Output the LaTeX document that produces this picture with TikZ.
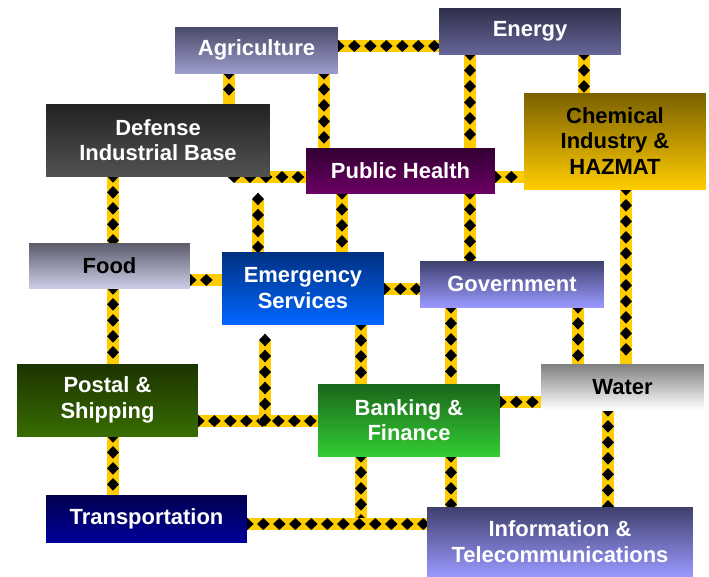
\documentclass[tikz,border=0pt]{standalone}
\usepackage{fontspec}
\setmainfont{Liberation Sans}
\usetikzlibrary{positioning, backgrounds, decorations.markings}
\definecolor{linkyellow}{RGB}{255,204,0}

\tikzset{
  sector/.style={inner sep=0pt, align=center, text=white, font=\fontsize{12.5}{14.5}\selectfont\bfseries},
  link/.style={draw=linkyellow, line width=6.8pt,
    postaction={decorate},
    decoration={markings, mark=between positions 0 and 1 step 0.32cm with
      {\fill[black] (-3.6pt,0pt) -- (0pt,3.4pt) -- (3.6pt,0pt) -- (0pt,-3.4pt) -- cycle;}}}
}

\begin{document}
\begin{tikzpicture}[x=0.02cm, y=-0.02cm]
  \useasboundingbox (0,0) rectangle (709,576);

  % Top row
  \node[sector, top color={rgb,255:red,74;green,74;blue,106}, bottom color={rgb,255:red,156;green,156;blue,204}, minimum width=3.26cm, minimum height=0.92cm] (agri) at (256.5,50) {Agriculture};
  \node[sector, top color={rgb,255:red,47;green,47;blue,74}, bottom color={rgb,255:red,102;green,102;blue,153}, minimum width=3.64cm, minimum height=0.92cm] (energy) at (530,31) {Energy};
  \node[sector, top color={rgb,255:red,34;green,34;blue,34}, bottom color={rgb,255:red,82;green,82;blue,82}, minimum width=4.48cm, minimum height=1.44cm] (dib) at (158,140) {Defense\\Industrial Base};
  \node[sector, top color={rgb,255:red,51;green,0;blue,51}, bottom color={rgb,255:red,106;green,0;blue,100}, minimum width=3.78cm, minimum height=0.90cm] (health) at (400.5,170.5) {Public Health};
  \node[sector, text=black, top color={rgb,255:red,122;green,96;blue,0}, bottom color={rgb,255:red,255;green,204;blue,0}, minimum width=3.64cm, minimum height=1.92cm] (chem) at (615,141) {Chemical\\Industry \&\\HAZMAT};

  % Middle row
  \node[sector, text=black, top color={rgb,255:red,92;green,92;blue,108}, bottom color={rgb,255:red,204;green,204;blue,230}, minimum width=3.22cm, minimum height=0.90cm] (food) at (109.5,265.5) {Food};
  \node[sector, top color={rgb,255:red,0;green,48;blue,128}, bottom color={rgb,255:red,0;green,102;blue,255}, minimum width=3.24cm, minimum height=1.44cm] (ems) at (303,288) {Emergency\\Services};
  \node[sector, top color={rgb,255:red,64;green,64;blue,110}, bottom color={rgb,255:red,153;green,153;blue,255}, minimum width=3.68cm, minimum height=0.92cm] (gov) at (512,284) {Government};
  \node[sector, text=black, top color={rgb,255:red,128;green,128;blue,128}, bottom color=white, minimum width=3.26cm, minimum height=0.92cm] (water) at (622.5,387) {Water};
  \node[sector, top color={rgb,255:red,28;green,51;blue,0}, bottom color={rgb,255:red,56;green,108;blue,0}, minimum width=3.62cm, minimum height=1.44cm] (postal) at (107.5,400) {Postal \&\\Shipping};
  \node[sector, top color={rgb,255:red,26;green,102;blue,26}, bottom color={rgb,255:red,51;green,204;blue,51}, minimum width=3.64cm, minimum height=1.44cm] (bank) at (409,420) {Banking \&\\Finance};

  % Bottom row
  \node[sector, top color={rgb,255:red,0;green,0;blue,80}, bottom color={rgb,255:red,0;green,0;blue,153}, minimum width=4.02cm, minimum height=0.94cm] (trans) at (146.5,518.5) {Transportation};
  \node[sector, top color={rgb,255:red,64;green,64;blue,110}, bottom color={rgb,255:red,153;green,153;blue,255}, minimum width=5.32cm, minimum height=1.38cm] (info) at (560,541.5) {Information \&\\Telecommunications};

  % Free ends of the open links
  \coordinate (dibend) at (234,177);
  \coordinate (emstub) at (258,199);
  \coordinate (bankstub) at (265,340);

  % Links, behind the boxes
  \begin{scope}[on background layer]
    \draw[link] (agri.east |- 0,46) -- (energy.west |- 0,46);
    \draw[link] (agri.south -| 229,0) -- (dib.north -| 229,0);
    \draw[link] (agri.south -| 324,0) -- (health.north -| 324,0);
    \draw[link] (dibend) -- (health.west |- dibend);
    \draw[link] (energy.south -| 470,0) -- (health.north -| 470,0);
    \draw[link] (energy.south -| 584,0) -- (chem.north -| 584,0);
    \draw[link] (health.east |- 0,177) -- (chem.west |- 0,177);
    \draw[link] (dib.south -| 113,0) -- (food.north -| 113,0);
    \draw[link] (food.south -| 113,0) -- (postal.north -| 113,0);
    \draw[link] (postal.south -| 113,0) -- (trans.north -| 113,0);
    \draw[link] (food.east |- 0,280) -- (ems.west |- 0,280);
    \draw[link] (emstub) -- (ems.north -| emstub);
    \draw[link] (health.south -| 342,0) -- (ems.north -| 342,0);
    \draw[link] (health.south -| 470,0) -- (gov.north -| 470,0);
    \draw[link] (chem.south -| 626,0) -- (water.north -| 626,0);
    \draw[link] (ems.east |- 0,289) -- (gov.west |- 0,289);
    \draw[link] (gov.south -| 451,0) -- (bank.north -| 451,0);
    \draw[link] (gov.south -| 578,0) -- (water.north -| 578,0);
    \draw[link] (ems.south -| 361,0) -- (bank.north -| 361,0);
    \draw[link] (bank.east |- 0,402) -- (water.west |- 0,402);
    \draw[link] (postal.east |- 0,421) -- (bank.west |- 0,421);
    \draw[link] (bankstub) -- (bankstub |- 0,421);
    \draw[link] (bank.south -| 361,0) -- (361,524);
    \draw[link] (trans.east |- 0,524) -- (info.west |- 0,524);
    \draw[link] (bank.south -| 451,0) -- (info.north -| 451,0);
    \draw[link] (water.south -| 608,0) -- (info.north -| 608,0);
  \end{scope}
\end{tikzpicture}
\end{document}
